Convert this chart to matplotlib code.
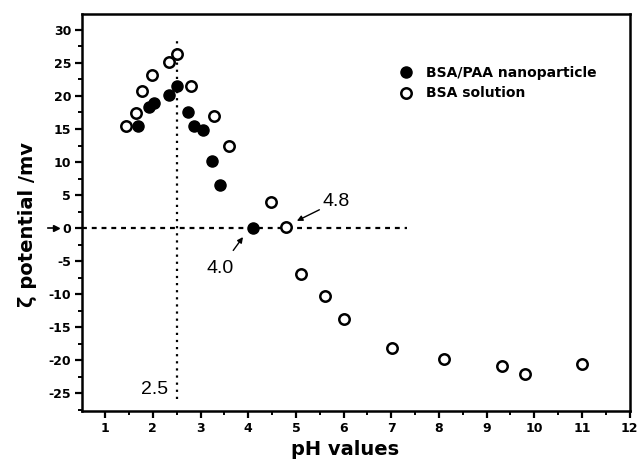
import matplotlib
matplotlib.use("Agg")
import matplotlib.pyplot as plt
from matplotlib.ticker import MultipleLocator

plt.rcParams["font.family"] = ["DejaVu Sans"]

# Data
nano_ph = [1.68, 1.91, 2.03, 2.33, 2.50, 2.73, 2.87, 3.06, 3.25, 3.40, 4.09]
nano_zeta = [15.4, 18.4, 19.0, 20.2, 21.5, 17.6, 15.5, 14.9, 10.2, 6.5, 0.0]

sol_ph = [1.44, 1.65, 1.77, 1.99, 2.33, 2.50, 2.80, 3.29, 3.60, 4.47, 4.79,
          5.10, 5.60, 6.00, 7.01, 8.11, 9.32, 9.81, 11.01]
sol_zeta = [15.4, 17.4, 20.7, 23.2, 25.1, 26.4, 21.5, 17.0, 12.5, 3.9, 0.1,
            -6.9, -10.3, -13.7, -18.2, -19.8, -20.9, -22.1, -20.6]

x_ticks = list(range(1, 13))
y_ticks = list(range(-25, 31, 5))

fig = plt.figure(figsize=(6.38, 4.66), dpi=100)
ax = fig.add_axes([0.129, 0.119, 0.858, 0.851])

ax.set_xlim(0.52, 12)
ax.set_ylim(-27.6, 32.4)

# reference lines
ax.plot([0.52, 7.33], [0, 0], color="black", lw=1.6, ls=(0, (2.2, 2.2)), zorder=1)
ax.plot([2.5, 2.5], [-25.8, 28.8], color="black", lw=1.6, ls=(0, (1, 2.2)), zorder=1)

ax.plot(nano_ph, nano_zeta, "o", color="black", markersize=8, zorder=3,
        label="BSA/PAA nanoparticle")
ax.plot(sol_ph, sol_zeta, "o", markerfacecolor="white", markeredgecolor="black",
        markeredgewidth=1.8, markersize=7.5, zorder=3, label="BSA solution")

ann_family = ["Liberation Sans", "DejaVu Sans"]
ax.annotate("4.8", xy=(5.02, 1.1), xytext=(5.55, 4.0), family=ann_family,
            fontsize=14, va="center", ha="left",
            arrowprops=dict(arrowstyle="-|>", color="black", lw=1.0,
                            mutation_scale=8, shrinkA=0, shrinkB=0))
ax.annotate("4.0", xy=(3.89, -1.35), xytext=(3.41, -6.1), family=ann_family,
            fontsize=14, va="center", ha="center",
            arrowprops=dict(arrowstyle="-|>", color="black", lw=1.0,
                            mutation_scale=8, shrinkA=6, shrinkB=0))
ax.text(2.32, -24.4, "2.5", family=ann_family, fontsize=14, ha="right", va="center")

ax.xaxis.set_major_locator(MultipleLocator(1))
ax.xaxis.set_minor_locator(MultipleLocator(0.5))
ax.yaxis.set_major_locator(MultipleLocator(5))
ax.yaxis.set_minor_locator(MultipleLocator(2.5))
ax.set_xticks(x_ticks)
ax.set_yticks(y_ticks)
ax.set_xticklabels([str(t) for t in x_ticks], fontweight="bold", fontsize=9)
ax.set_yticklabels([str(t) for t in y_ticks], fontweight="bold", fontsize=9)
ax.tick_params(which="major", direction="out", length=5, width=1.6, pad=3)
ax.tick_params(which="minor", direction="out", length=3, width=1.4)

for s in ax.spines.values():
    s.set_linewidth(1.8)

# small arrow marking zero on the y axis
ax.plot([-0.062, -0.048], [0, 0], color="black", lw=1.2,
        transform=ax.get_yaxis_transform(), clip_on=False)
ax.plot([-0.048], [0], marker=">", color="black", markersize=4,
        transform=ax.get_yaxis_transform(), clip_on=False)

ax.set_xlabel("pH values", fontsize=14, fontweight="bold")
ax.xaxis.set_label_coords(0.48, -0.075)
ax.set_ylabel("ζ potential /mv", fontsize=14, fontweight="bold")
ax.yaxis.set_label_coords(-0.083, 0.468)

leg = ax.legend(loc="upper left", bbox_to_anchor=(0.555, 0.9), frameon=False,
                prop={"weight": "bold", "size": 10}, handletextpad=0.95,
                labelspacing=0.45, handlelength=1.0)

fig.savefig("out.png", dpi=100)
